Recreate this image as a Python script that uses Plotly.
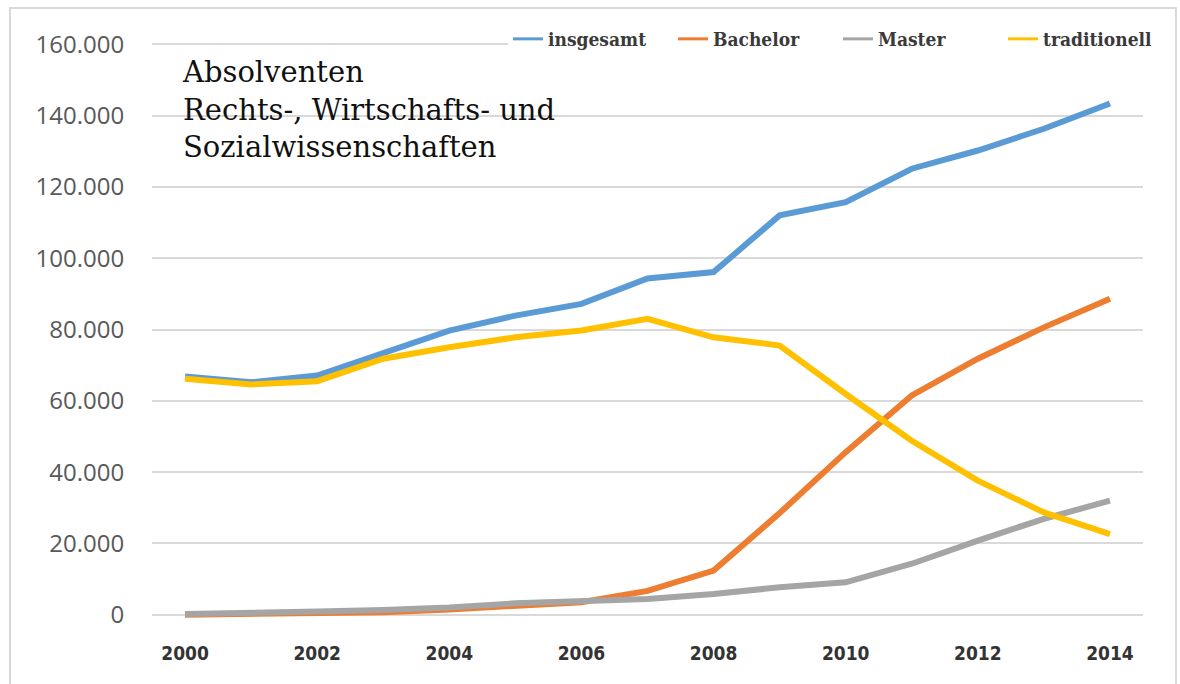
import plotly.graph_objects as go

years = list(range(2000, 2015))
insgesamt = [66800, 65200, 67100, 73600, 79700, 83900, 87200, 94300, 96100, 112000, 115700, 125100, 130200, 136300, 143400]
bachelor = [0, 100, 300, 700, 1500, 2500, 3500, 6700, 12400, 28500, 45600, 61500, 71800, 80600, 88600]
master = [200, 400, 900, 1300, 2000, 3200, 3800, 4400, 5800, 7700, 9100, 14300, 20800, 26900, 32000]
traditionell = [66200, 64600, 65500, 71800, 75000, 77800, 79700, 83000, 77800, 75500, 61900, 48800, 37600, 28700, 22600]

series_names = ["insgesamt", "Bachelor", "Master", "traditionell"]
series_values = [insgesamt, bachelor, master, traditionell]
colors = ["#5B9BD5", "#ED7D31", "#A5A5A5", "#FFC000"]

y_ticks = [0, 20000, 40000, 60000, 80000, 100000, 120000, 140000, 160000]
y_ticklabels = ["0", "20.000", "40.000", "60.000", "80.000", "100.000", "120.000", "140.000", "160.000"]
x_ticks = [2000, 2002, 2004, 2006, 2008, 2010, 2012, 2014]
x_ticklabels = [str(v) for v in x_ticks]

title_lines = ["Absolventen", "Rechts-, Wirtschafts- und", "Sozialwissenschaften"]

# plot area in pixels
L, R, T, B = 152, 1143, 30, 629.3
W, H = R - L, B - T


def px_x(p):
    return (p - L) / W


def px_y(p):
    return (B - p) / H


fig = go.Figure()
for name, vals, col in zip(series_names, series_values, colors):
    fig.add_trace(go.Scatter(x=years, y=vals, name=name, mode="lines",
                             line=dict(color=col, width=6), showlegend=False,
                             legendgroup=name))
# legend entries with thinner sample lines
for name, col in zip(series_names, colors):
    fig.add_trace(go.Scatter(x=[None], y=[None], name=name, mode="lines",
                             line=dict(color=col, width=3), legendgroup=name))

fig.update_layout(
    width=1180, height=684,
    margin=dict(l=L, r=1180 - R, t=T, b=684 - B, autoexpand=False),
    paper_bgcolor="white", plot_bgcolor="white",
    showlegend=True,
    legend=dict(orientation="h", x=px_x(508), xanchor="left", y=px_y(20), yanchor="top",
                bgcolor="white", entrywidth=120, entrywidthmode="pixels",
                font=dict(family="DejaVu Serif Condensed, Liberation Serif, serif", size=19,
                          color="#3a3a3a", weight="bold"),
                itemwidth=30, tracegroupgap=0),
    xaxis=dict(range=[1999.5, 2014.5], tickvals=x_ticks, ticktext=x_ticklabels,
               showgrid=False, zeroline=False, showline=False,
               ticks="outside", ticklen=7, tickcolor="rgba(0,0,0,0)",
               tickfont=dict(family="DejaVu Sans Condensed, sans-serif", size=19, color="#333333",
                             weight="bold")),
    yaxis=dict(range=[-4000, 164000], tickvals=y_ticks, ticktext=y_ticklabels,
               showgrid=True, gridcolor="#D9D9D9", gridwidth=2, zeroline=False, showline=False,
               ticks="outside", ticklen=22, tickcolor="rgba(0,0,0,0)",
               tickfont=dict(family="Open Sans, sans-serif", size=24, color="#595959")),
    shapes=[dict(type="rect", xref="paper", yref="paper",
                 x0=px_x(10), x1=px_x(1176), y0=px_y(700), y1=px_y(8),
                 line=dict(color="#D9D9D9", width=2), fillcolor="rgba(0,0,0,0)", layer="below")],
    annotations=[dict(text="<br>".join(title_lines), xref="paper", yref="paper",
                      x=px_x(180), y=px_y(53),
                      xanchor="left", yanchor="top", align="left", showarrow=False,
                      font=dict(family="DejaVu Serif, serif", size=29, color="#111111"))],
)

fig.write_html("out.html", config={"displayModeBar": False},
               post_script="document.body.style.margin='0';document.body.style.overflow='hidden';")
